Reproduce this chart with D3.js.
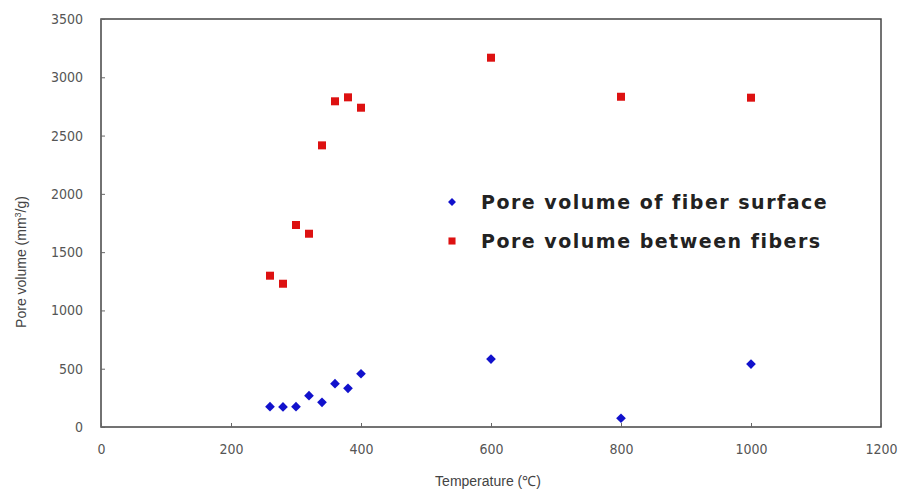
<!DOCTYPE html>
<html>
<head>
<meta charset="utf-8">
<script src="https://cdn.jsdelivr.net/npm/d3@7"></script>
<style>
  body { margin: 0; background: #fff; }
</style>
</head>
<body>
<div id="chart"></div>
<script>
const temps = [260, 280, 300, 320, 340, 360, 380, 400, 600, 800, 1000];
const surfaceVolume = [174, 172, 174, 269, 212, 372, 332, 457, 583, 75, 540];
const betweenVolume = [1298, 1229, 1733, 1658, 2416, 2794, 2828, 2739, 3168, 2833, 2825];
const xTicks = [0, 200, 400, 600, 800, 1000, 1200];
const yTicks = [0, 500, 1000, 1500, 2000, 2500, 3000, 3500];
const seriesNames = ["Pore volume of fiber surface", "Pore volume between fibers"];

const width = 909, height = 497;
const margin = {left: 101, right: 28, top: 19, bottom: 70};

const svg = d3.select("#chart").append("svg")
    .attr("width", width)
    .attr("height", height);

const x = d3.scaleLinear().domain([0, 1200]).range([margin.left, width - margin.right]);
const y = d3.scaleLinear().domain([0, 3500]).range([height - margin.bottom, margin.top]);

// frame
svg.append("rect")
    .attr("x", x(0))
    .attr("y", y(3500))
    .attr("width", x(1200) - x(0))
    .attr("height", y(0) - y(3500))
    .attr("fill", "none")
    .attr("stroke", "#444")
    .attr("stroke-width", 1.5);

const xAxis = svg.append("g")
    .attr("transform", `translate(0,${y(0)})`)
    .call(d3.axisBottom(x).tickValues(xTicks).tickFormat(d3.format("d")).tickSizeInner(-4).tickSizeOuter(0).tickPadding(17));

const yAxis = svg.append("g")
    .attr("transform", `translate(${x(0)},0)`)
    .call(d3.axisLeft(y).tickValues(yTicks).tickFormat(d3.format("d")).tickSizeInner(-4).tickSizeOuter(0).tickPadding(18));

[xAxis, yAxis].forEach(a => {
    a.select(".domain").remove();
    a.selectAll(".tick line").attr("stroke", "#666");
    a.selectAll(".tick text")
        .attr("fill", "#555")
        .style("font-family", "'Liberation Sans Narrow', 'DejaVu Sans Condensed', sans-serif")
        .style("font-size", "14px");
});

svg.append("text")
    .attr("x", 488)
    .attr("y", 486)
    .attr("text-anchor", "middle")
    .attr("fill", "#444")
    .style("font-family", "'Liberation Sans Narrow', sans-serif")
    .style("font-size", "14px")
    .text("Temperature (℃)");

const yTitle = svg.append("text")
    .attr("transform", "translate(26,262) rotate(-90)")
    .attr("text-anchor", "middle")
    .attr("fill", "#444")
    .style("font-family", "'Liberation Sans Narrow', sans-serif")
    .style("font-size", "14px");
yTitle.append("tspan").text("Pore volume (mm");
yTitle.append("tspan").attr("dy", -5).style("font-size", "9px").text("3");
yTitle.append("tspan").attr("dy", 5).text("/g)");

const diamond = d3.symbol().type(d3.symbolDiamond2).size(60);
const square = d3.symbol().type(d3.symbolSquare).size(64);

svg.append("g").selectAll("path")
    .data(temps.map((t, i) => [t, betweenVolume[i]]))
    .join("path")
    .attr("transform", d => `translate(${x(d[0])},${y(d[1])})`)
    .attr("d", square)
    .attr("fill", "#dd1111");

svg.append("g").selectAll("path")
    .data(temps.map((t, i) => [t, surfaceVolume[i]]))
    .join("path")
    .attr("transform", d => `translate(${x(d[0])},${y(d[1])})`)
    .attr("d", diamond)
    .attr("fill", "#1111cc");

// legend
const legend = svg.append("g").attr("transform", "translate(452,202)");
seriesNames.forEach((name, i) => {
    const g = legend.append("g").attr("transform", `translate(0,${i * 39})`);
    g.append("path")
        .attr("d", i === 0 ? d3.symbol().type(d3.symbolDiamond2).size(40) : d3.symbol().type(d3.symbolSquare).size(50))
        .attr("fill", i === 0 ? "#1111cc" : "#dd1111");
    g.append("text")
        .attr("x", 29)
        .attr("y", 7)
        .attr("fill", "#222")
        .style("font-family", "'DejaVu Sans', sans-serif")
        .style("font-weight", "bold")
        .style("font-size", "19px")
        .style("letter-spacing", "1.5px")
        .text(name);
});
</script>
</body>
</html>
